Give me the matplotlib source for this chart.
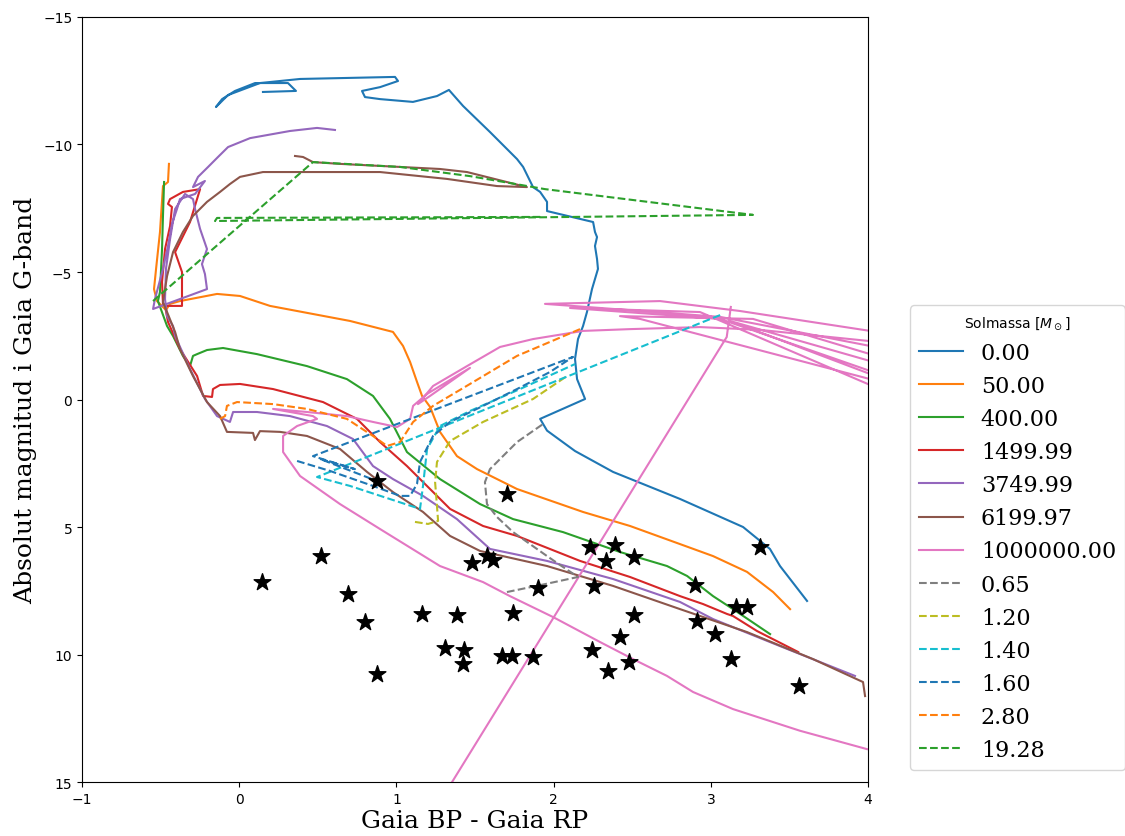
import numpy as np
import matplotlib
matplotlib.use("Agg")
import matplotlib.pyplot as plt

nan = np.nan

# isochrones (solid), label = age
iso_labels = ["0.00", "50.00", "400.00", "1499.99", "3749.99", "6199.97", "1000000.00"]

iso0_x = [0.151, 0.361, 0.310, 0.101, -0.027, -0.109, -0.148, -0.071, 0.132, 0.387, 0.991, 1.010,
          0.896, 0.781, 0.800, 0.896, 1.105, 1.258, 1.334, 1.424, 1.595, 1.767, 1.806, 1.869, 1.914,
          1.958, 1.958, 2.251, 2.263, 2.276, 2.263, 2.276, 2.282, 2.244, 2.212, 2.187, 2.155, 2.136,
          2.149, 2.200, 1.914, 1.958, 2.136, 2.378, 2.804, 3.205, 3.376, 3.440, 3.612]
iso0_y = [-12.06, -12.10, -12.41, -12.41, -12.10, -11.78, -11.47, -11.94, -12.41, -12.57, -12.65,
          -12.49, -12.25, -12.10, -11.86, -11.78, -11.67, -11.90, -12.14, -11.51, -10.49, -9.43,
          -9.12, -8.33, -8.14, -7.75, -7.39, -6.96, -6.57, -6.37, -6.02, -5.51, -5.12, -4.33, -3.43,
          -2.88, -2.37, -1.59, -0.80, -0.02, 0.76, 1.22, 2.02, 2.84, 3.90, 5.00, 5.86, 6.53, 7.90]

iso50_x = [-0.447, -0.453, -0.485, -0.504, -0.529, -0.542, -0.523, -0.466, -0.440, -0.377, -0.141,
           0.005, 0.196, 0.705, 0.978, 1.042, 1.087, 1.131, 1.163, 1.214, 1.277, 1.385, 1.513,
           1.767, 2.187, 2.486, 2.804, 3.014, 3.230, 3.396, 3.504]
iso50_y = [-9.24, -8.53, -8.37, -6.57, -5.12, -4.33, -3.86, -3.51, -3.75, -3.86, -4.14, -4.06,
           -3.67, -3.08, -2.65, -2.10, -1.47, -0.69, -0.14, 0.29, 1.27, 2.22, 2.73, 3.51, 4.41,
           4.96, 5.67, 6.14, 6.76, 7.55, 8.22]

iso400_x = [-0.478, -0.485, -0.491, -0.504, -0.517, -0.459, -0.421, -0.358, -0.313, -0.294, -0.268,
            -0.205, -0.103, 0.113, 0.431, 0.685, 0.851, 0.959, 1.067, 1.277, 1.532, 1.742, 2.060,
            2.422, 2.721, 2.849, 3.014, 3.141, 3.377]
iso400_y = [-8.53, -7.20, -5.90, -4.22, -3.86, -2.88, -2.49, -1.71, -1.31, -1.71, -1.78, -1.94,
            -2.02, -1.78, -1.31, -0.80, -0.14, 0.76, 2.06, 3.12, 4.10, 4.69, 5.20, 5.98, 6.53,
            6.92, 7.71, 8.22, 9.20]

iso1500_x = [-0.485, -0.491, -0.472, -0.440, -0.428, -0.453, -0.440, -0.358, -0.249, -0.313, -0.408,
             -0.364, -0.364, -0.472, -0.453, -0.377, -0.268, -0.230, -0.173, -0.167, -0.122, 0.005,
             0.215, 0.533, 0.749, 0.896, 1.067, 1.341, 1.551, 1.767, 2.168, 2.486, 2.804, 2.950,
             3.103, 3.141, 3.294, 3.555]
iso1500_y = [-3.75, -4.61, -5.90, -6.80, -7.55, -7.67, -7.86, -8.14, -8.25, -6.96, -5.78, -5.00,
             -3.67, -3.67, -3.04, -1.98, -0.92, -0.14, -0.10, -0.41, -0.57, -0.61, -0.41, 0.10,
             0.76, 1.67, 2.61, 4.29, 4.96, 5.35, 6.33, 6.96, 7.71, 8.02, 8.41, 8.49, 9.08, 9.90]

iso3750_x = [0.609, 0.495, 0.323, 0.069, -0.071, -0.135, -0.198, -0.262, -0.294, -0.218, -0.281,
             -0.377, -0.396, -0.428, -0.453, -0.485, -0.536, -0.548, -0.205, -0.218, -0.237, -0.205,
             -0.249, -0.281, -0.294, -0.345, -0.408, -0.440, -0.466, -0.472, -0.459, -0.421, -0.408,
             -0.313, -0.218, -0.141, -0.059, -0.039, 0.113, 0.323, 0.558, 0.724, 0.851, 0.978,
             1.169, 1.385, 1.595, 1.958, 2.378, 2.804, 3.014, 3.440, 3.758, 3.917]
iso3750_y = [-10.57, -10.65, -10.53, -10.25, -9.90, -9.51, -9.12, -8.73, -8.33, -8.57, -8.06,
             -7.86, -7.47, -6.88, -6.02, -5.12, -3.94, -3.55, -4.33, -4.92, -5.31, -5.90, -6.69,
             -7.47, -7.86, -8.06, -7.47, -6.29, -5.12, -3.94, -3.27, -2.88, -2.49, -1.20, -0.02,
             0.65, 0.88, 0.49, 0.49, 0.65, 1.04, 1.55, 2.61, 3.12, 3.78, 4.69, 5.86, 6.33, 7.04,
             7.94, 8.61, 9.67, 10.45, 10.84]

iso6200_x = [0.355, 0.406, 0.469, 0.641, 1.277, 1.449, 1.830, 1.640, 1.322, 0.896, 0.151, 0.005,
             -0.059, -0.122, -0.205, -0.294, -0.358, -0.421, -0.459, -0.485, -0.459, -0.408,
             -0.377, -0.294, -0.205, -0.122, -0.078, 0.088, 0.100, 0.132, 0.260, 0.431, 0.641,
             0.813, 0.978, 1.169, 1.341, 1.532, 1.958, 2.378, 2.804, 3.230, 3.650, 3.968, 3.981]
iso6200_y = [-9.55, -9.51, -9.31, -9.24, -9.04, -8.92, -8.33, -8.37, -8.65, -8.92, -8.92, -8.73,
             -8.45, -8.14, -7.75, -7.20, -6.57, -5.78, -4.84, -3.82, -3.43, -2.65, -1.98, -0.92,
             0.10, 0.65, 1.27, 1.31, 1.59, 1.24, 1.27, 1.43, 1.94, 2.84, 3.63, 4.41, 5.35, 5.94,
             6.53, 7.31, 8.22, 9.12, 10.18, 11.08, 11.63]

iso1e6_x = [3.993, 3.567, 3.141, 2.887, 2.721, 2.505, 2.295, 1.996, 1.722, 1.551, 1.277, 0.896,
            0.641, 0.387, 0.279, 0.279, 0.368, 0.495, 0.469, 0.215, 0.431, 0.685, 0.851, 1.004,
            1.087, 1.106, 1.195, 1.468, 1.214, 1.137, 1.233, 1.449, 1.659, 1.869, 2.187, 2.486,
            2.931, 3.313, 4.013,
            4.013, 3.059, 1.945, 2.677, 3.186, 4.013,
            4.013, 3.059, 2.104, 2.931, 4.013,
            4.013, 2.550, 2.422, 3.268, 4.013,
            4.013, 3.122, 4.013,
            nan, 1.354, 3.101, 3.127]
iso1e6_y = [13.71, 12.99, 12.14, 11.47, 10.84, 10.18, 9.51, 8.53, 7.71, 7.16, 6.53, 5.08,
            4.10, 3.00, 2.06, 1.43, 1.04, 0.76, 0.65, 0.37, 0.49, 0.65, 0.88, 1.08,
            0.76, 0.25, -0.22, -1.24, -0.14, 0.18, -0.53, -1.31, -2.06, -2.37, -2.69, -2.76,
            -2.84, -2.73, -2.29,
            -2.10, -3.24, -3.75, -3.86, -3.47, -2.69,
            -1.12, -3.16, -3.59, -3.43, -0.57,
            -0.80, -3.16, -3.27, -3.16, -1.78,
            -1.51, -3.08, -1.00,
            nan, 15.0, -2.45, -3.63]

# evolutionary tracks (dashed), label = stellar mass
trk_labels = ["0.65", "1.20", "1.40", "1.60", "2.80", "19.28"]

trk065_x = [1.703, 1.945, 2.155, 2.041, 1.958, 1.742, 1.640, 1.576, 1.563, 1.595, 1.767, 1.933]
trk065_y = [7.55, 7.24, 6.96, 6.49, 6.14, 5.20, 4.61, 4.10, 3.24, 2.73, 1.67, 0.96]

trk120_x = [1.118, 1.201, 1.265, 1.258, 1.246, 1.258, 1.341, 1.551, 1.869, 2.085]
trk120_y = [4.80, 4.88, 4.76, 4.18, 3.24, 2.45, 1.63, 0.88, -0.02, -0.92]

trk140_x = [3.059, 0.495, 0.705, 1.150, 1.169, 1.195, 1.277, 1.468, 1.786, 2.136]
trk140_y = [-3.31, 3.04, 3.39, 4.29, 3.39, 1.94, 1.04, 0.45, -0.41, -1.39]

trk160_x = [0.368, 0.577, 0.851, 1.023, 1.087, 1.131, 1.150, 1.233, 1.341, 1.551, 1.767, 1.977,
            2.123, 0.469, 0.736, 0.514, 0.844]
trk160_y = [2.41, 2.80, 3.39, 3.78, 3.78, 3.31, 2.45, 1.43, 0.88, 0.25, -0.41, -1.08,
            -1.67, 2.22, 2.73, 2.33, 3.12]

trk280_x = [-0.122, -0.090, -0.078, -0.014, 0.215, 0.431, 0.685, 0.851, 0.940, 1.023, 1.106,
            1.233, 1.468, 1.767, 2.168]
trk280_y = [0.76, 0.65, 0.25, 0.10, 0.18, 0.37, 0.76, 1.43, 1.82, 1.67, 0.88, 0.25, -0.61,
            -1.71, -2.76]

trk1928_x = [-0.548, -0.504, 0.469, 1.023, 1.468, 1.945, 3.268, -0.154, -0.141, 1.914]
trk1928_y = [-3.86, -4.10, -9.31, -9.12, -8.76, -8.25, -7.24, -7.00, -7.12, -7.16]

# observed stars
star_bp_rp = [0.145, 0.52, 0.69, 0.80, 0.877, 0.877, 1.163, 1.309, 1.386, 1.43, 1.424, 1.48,
              1.576, 1.615, 1.704, 1.672, 1.735, 1.742, 1.90, 1.869, 2.23, 2.39, 2.333, 2.51,
              2.257, 2.51, 2.42, 2.244, 2.346, 2.48, 2.90, 2.91, 3.027, 3.16, 3.23, 3.13, 3.31, 3.56]
star_mg = [7.16, 6.14, 7.63, 8.73, 3.20, 10.76, 8.41, 9.75, 8.45, 9.82, 10.37, 6.41,
           6.14, 6.29, 3.71, 10.06, 10.06, 8.37, 7.39, 10.10, 5.78, 5.71, 6.33, 6.18,
           7.31, 8.45, 9.31, 9.82, 10.65, 10.29, 7.27, 8.69, 9.20, 8.14, 8.14, 10.18, 5.78, 11.24]

isochrones = [(iso0_x, iso0_y), (iso50_x, iso50_y), (iso400_x, iso400_y), (iso1500_x, iso1500_y),
              (iso3750_x, iso3750_y), (iso6200_x, iso6200_y), (iso1e6_x, iso1e6_y)]
tracks = [(trk065_x, trk065_y), (trk120_x, trk120_y), (trk140_x, trk140_y),
          (trk160_x, trk160_y), (trk280_x, trk280_y), (trk1928_x, trk1928_y)]

fig = plt.figure(figsize=(11.25, 8.37), dpi=100)
ax = fig.add_axes([0.0729, 0.0645, 0.6987, 0.914])

for (x, y), lab in zip(isochrones, iso_labels):
    ax.plot(x, y, label=lab)
for (x, y), lab in zip(tracks, trk_labels):
    ax.plot(x, y, "--", label=lab)

ax.scatter(star_bp_rp, star_mg, marker="*", s=160, color="black", zorder=5)

ax.set_xlim(-1, 4)
ax.set_ylim(15, -15)
ax.set_xlabel("Gaia BP - Gaia RP", family="serif", fontsize=18, labelpad=2)
ax.set_ylabel("Absolut magnitud i Gaia G-band", family="serif", fontsize=18)

ax.legend(title=r"Solmassa [$M_\odot$]", title_fontsize=10,
          prop={"family": "serif", "size": 16},
          loc="lower left", bbox_to_anchor=(1.053, 0.0157), borderaxespad=0)

fig.savefig("out.png", dpi=100)
